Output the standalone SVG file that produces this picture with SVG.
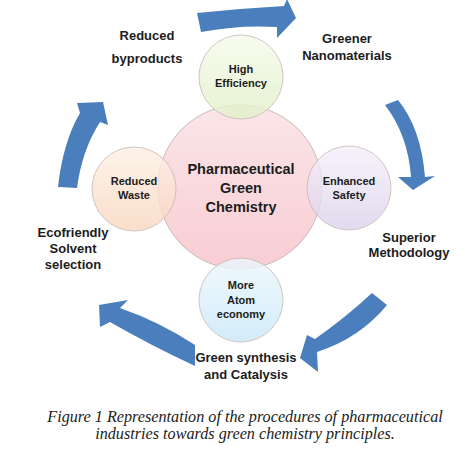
<svg xmlns="http://www.w3.org/2000/svg" width="474" height="474" viewBox="0 0 474 474">
<defs>
<linearGradient id="gPink" x1="0" y1="0" x2="0" y2="1">
<stop offset="0" stop-color="#fbe6e8"/><stop offset="1" stop-color="#f8cdd3"/>
</linearGradient>
<linearGradient id="gGreen" x1="0" y1="0" x2="0" y2="1">
<stop offset="0" stop-color="#f6fbec"/><stop offset="1" stop-color="#e2f1c8"/>
</linearGradient>
<linearGradient id="gPeach" x1="0" y1="0" x2="0" y2="1">
<stop offset="0" stop-color="#fdf0e6"/><stop offset="1" stop-color="#f9d8c0"/>
</linearGradient>
<linearGradient id="gLav" x1="0" y1="0" x2="0" y2="1">
<stop offset="0" stop-color="#f5f1fa"/><stop offset="1" stop-color="#ddd3ec"/>
</linearGradient>
<linearGradient id="gBlue" x1="0" y1="0" x2="0" y2="1">
<stop offset="0" stop-color="#eef8fd"/><stop offset="1" stop-color="#c9e8f8"/>
</linearGradient>
</defs>
<style>
.c{stroke:#c9b8b8;stroke-width:1}
.s{opacity:0.82}
.t{font-family:"Liberation Sans",Arial,sans-serif;font-weight:bold;fill:#1c1c1c;text-anchor:middle}
.big{font-size:14.5px}
.sm{font-size:11px}
.lb{font-size:13px}
.arr{fill:#4a7ebd}
.cap{font-family:"Liberation Serif","Times New Roman",serif;font-style:italic;font-size:16.2px;fill:#222;text-anchor:middle}
</style>
<rect width="474" height="474" fill="#ffffff"/>
<g id="connectors">
<path class="arr" d="M197,13 Q240,8.5 284,6 L287,-1 L296,18 L277,38 L277,27 Q240,24.5 201,32 Z"/>
<path class="arr" d="M385,105 L398,100 Q421,128 425,177 L435,176 L413,190 L398,177 L411,177 Q408,135 385,105 Z"/>
<path class="arr" d="M372,293 Q345,318 315,339 L307,335 L300,358 L318,372 L317,352 Q360,338 387,305 Z"/>
<path class="arr" d="M195,345 Q160,322 120,308 L128,300 L99,305 L100,327 L110,322 Q150,345 195,366 Z"/>
<path class="arr" d="M58,187 Q63,142 80,113 L77,103 L103,102 L108,125 L100,122 Q82,150 77,188 Z"/>
</g>
<g id="center">
<circle class="c" cx="240" cy="187" r="82" fill="url(#gPink)"/>
</g>
<g id="high-efficiency">
<circle class="c s" cx="241" cy="77" r="42" fill="url(#gGreen)"/>
<text class="t sm" x="241" y="73">High</text>
<text class="t sm" x="241" y="87">Efficiency</text>
</g>
<g id="reduced-waste">
<circle class="c s" cx="134" cy="189" r="42" fill="url(#gPeach)"/>
<text class="t sm" x="134" y="185">Reduced</text>
<text class="t sm" x="134" y="199">Waste</text>
</g>
<g id="enhanced-safety">
<circle class="c s" cx="349" cy="188" r="42" fill="url(#gLav)"/>
<text class="t sm" x="349" y="185">Enhanced</text>
<text class="t sm" x="349" y="199">Safety</text>
</g>
<g id="atom-economy">
<circle class="c s" cx="241" cy="300" r="42" fill="url(#gBlue)"/>
<text class="t sm" x="241" y="289">More</text>
<text class="t sm" x="241" y="304">Atom</text>
<text class="t sm" x="241" y="318">economy</text>
</g>
<g id="center-label">
<text class="t big" x="241" y="174">Pharmaceutical</text>
<text class="t big" x="241" y="193">Green</text>
<text class="t big" x="241" y="212">Chemistry</text>
</g>
<g id="reduced-byproducts">
<text class="t lb" x="147" y="40">Reduced</text>
<text class="t lb" x="147" y="63">byproducts</text>
</g>
<g id="greener-nanomaterials">
<text class="t lb" x="347" y="43">Greener</text>
<text class="t lb" x="347" y="60">Nanomaterials</text>
</g>
<g id="superior-methodology">
<text class="t lb" x="409" y="242">Superior</text>
<text class="t lb" x="409" y="257">Methodology</text>
</g>
<g id="green-synthesis">
<text class="t lb" x="246" y="362">Green synthesis</text>
<text class="t lb" x="246" y="379">and Catalysis</text>
</g>
<g id="ecofriendly-solvent">
<text class="t lb" x="73" y="237">Ecofriendly</text>
<text class="t lb" x="73" y="253">Solvent</text>
<text class="t lb" x="73" y="269">selection</text>
</g>
<g id="caption">
<text class="cap" x="245" y="422">Figure 1 Representation of the procedures of pharmaceutical</text>
<text class="cap" x="245" y="439">industries towards green chemistry principles.</text>
</g>
</svg>
